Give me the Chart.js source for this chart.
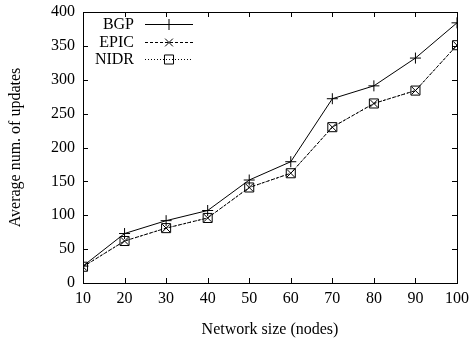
<!DOCTYPE html>
<html>
<head>
<meta charset="utf-8">
<script src="https://cdn.jsdelivr.net/npm/chart.js@4/dist/chart.umd.min.js"></script>
<style>
  html, body { margin: 0; padding: 0; background: #fff; }
  #wrap { width: 472px; height: 339px; }
</style>
</head>
<body>
<div id="wrap"><canvas id="grafico" width="472" height="339"></canvas></div>
<script>
// dados
const tamanhos = [10, 20, 30, 40, 50, 60, 70, 80, 90, 100];
const bgp  = [25, 73, 92, 107, 152, 179, 272, 291, 332, 384];
const epic = [24, 62, 81, 96, 141, 162, 230, 265, 284, 351];
const nidr = [24, 62, 81, 96, 141, 162, 230, 265, 284, 351];

const fonte = "'Liberation Serif', 'DejaVu Serif', serif";

function pontos(valores) {
    return tamanhos.map((t, i) => ({ x: t, y: valores[i] }));
}

// moldura e marcas internas (estilo gnuplot)
const moldura = {
    id: 'moldura',
    afterDraw(chart) {
        const { ctx, chartArea: a, scales } = chart;
        ctx.save();
        ctx.strokeStyle = '#000';
        ctx.lineWidth = 1;
        ctx.strokeRect(Math.round(a.left) + 0.5, Math.round(a.top) + 0.5,
            Math.round(a.right - a.left), Math.round(a.bottom - a.top));
        const len = 5;
        ctx.beginPath();
        scales.x.ticks.forEach(t => {
            const px = Math.round(scales.x.getPixelForValue(t.value)) + 0.5;
            ctx.moveTo(px, a.bottom); ctx.lineTo(px, a.bottom - len);
            ctx.moveTo(px, a.top); ctx.lineTo(px, a.top + len);
        });
        scales.y.ticks.forEach(t => {
            const py = Math.round(scales.y.getPixelForValue(t.value)) + 0.5;
            ctx.moveTo(a.left, py); ctx.lineTo(a.left + len, py);
            ctx.moveTo(a.right, py); ctx.lineTo(a.right - len, py);
        });
        ctx.stroke();

        // legenda
        ctx.font = '16px ' + fonte;
        ctx.textAlign = 'right';
        ctx.textBaseline = 'middle';
        chart.data.datasets.forEach((ds, i) => {
            const y = Math.round(24 + i * 17.5) + 0.5;
            ctx.fillStyle = '#000';
            ctx.fillText(ds.label, 134, y);
            ctx.strokeStyle = ds.borderColor;
            ctx.lineWidth = ds.borderWidth;
            ctx.setLineDash(ds.borderDash || []);
            ctx.beginPath();
            ctx.moveTo(145, y);
            ctx.lineTo(193, y);
            ctx.stroke();
            ctx.setLineDash([]);
            ctx.fillStyle = 'rgba(0,0,0,0)';
            ctx.strokeStyle = '#000';
            Chart.helpers.drawPoint(ctx, {
                pointStyle: ds.pointStyle,
                radius: ds.pointRadius,
                borderWidth: 1
            }, 169, y);
        });
        ctx.restore();
    }
};

new Chart(document.getElementById('grafico').getContext('2d'), {
    type: 'line',
    data: {
        datasets: [{
            label: 'BGP',
            data: pontos(bgp),
            borderColor: '#000',
            borderWidth: 1,
            pointStyle: 'cross',
            pointRadius: 5.5,
            pointBorderColor: '#000',
            pointBackgroundColor: 'rgba(0,0,0,0)',
            tension: 0
        }, {
            label: 'EPIC',
            data: pontos(epic),
            borderColor: '#000',
            borderWidth: 1,
            borderDash: [3, 2],
            pointStyle: 'crossRot',
            pointRadius: 5.5,
            pointBorderColor: '#000',
            pointBackgroundColor: 'rgba(0,0,0,0)',
            tension: 0
        }, {
            label: 'NIDR',
            data: pontos(nidr),
            borderColor: '#000',
            borderWidth: 1,
            borderDash: [1, 2],
            pointStyle: 'rect',
            pointRadius: 6.4,
            pointBorderColor: '#000',
            pointBackgroundColor: 'rgba(0,0,0,0)',
            tension: 0
        }]
    },
    options: {
        responsive: false,
        animation: false,
        layout: { padding: { left: 0, right: 15, top: 12, bottom: 0 } },
        plugins: {
            legend: { display: false },
            tooltip: { enabled: false }
        },
        scales: {
            x: {
                type: 'linear',
                min: 10,
                max: 100,
                afterFit: s => { s.height = 56; s.paddingLeft = 0; s.paddingRight = 0; },
                ticks: { stepSize: 10, color: '#000', padding: 6, font: { family: fonte, size: 16 } },
                grid: { display: false, drawTicks: false },
                border: { display: false },
                title: {
                    display: true,
                    text: 'Network size (nodes)',
                    color: '#000',
                    padding: { top: 4, bottom: 0 },
                    font: { family: fonte, size: 16 }
                }
            },
            y: {
                min: 0,
                max: 400,
                afterFit: s => { s.width = 83; s.paddingTop = 0; s.paddingBottom = 0; },
                ticks: { stepSize: 50, color: '#000', padding: 8, font: { family: fonte, size: 16 } },
                grid: { display: false, drawTicks: false },
                border: { display: false },
                title: {
                    display: true,
                    text: 'Average num. of updates',
                    color: '#000',
                    padding: { top: 6, bottom: 0 },
                    font: { family: fonte, size: 16 }
                }
            }
        }
    },
    plugins: [moldura]
});
</script>
</body>
</html>
